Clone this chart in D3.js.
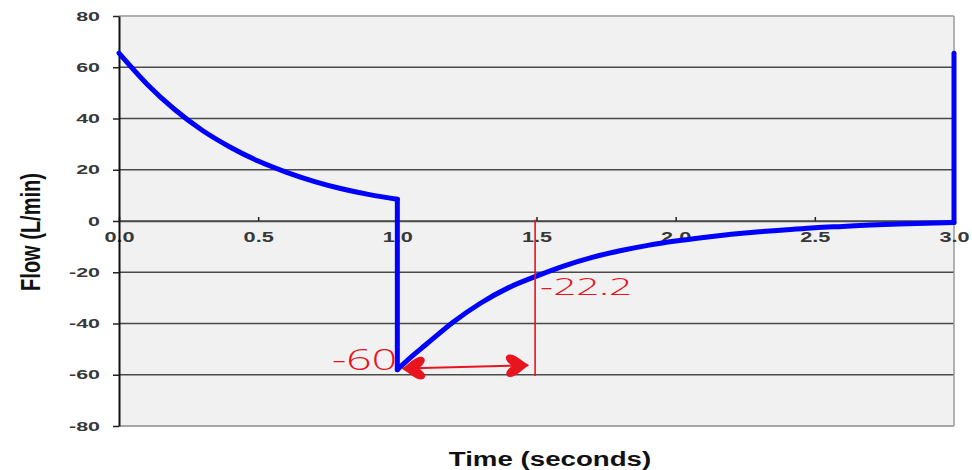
<!DOCTYPE html>
<html lang="en">
<head>
<meta charset="UTF-8">
<title>Flow vs Time</title>
<script src="https://d3js.org/d3.v7.min.js"></script>
<style>
  body { margin: 0; background: #fff; }
  .axis text { font-family: "Liberation Sans", Arial, sans-serif; font-weight: bold; fill: #383838; }
  .title { font-family: "Liberation Sans", Arial, sans-serif; font-weight: bold; fill: #111; }
  .grid line { stroke: #4a4a4a; stroke-width: 1.6px; }
  .flow { fill: none; stroke: #0000ff; stroke-width: 5px; stroke-linejoin: round; stroke-linecap: round; }
  .note { fill: #e8141e; font-family: "Open Sans", Lato, sans-serif; font-weight: 300; }
</style>
</head>
<body>
<svg width="972" height="470"></svg>
<script>
// axis ticks
const timeTicks = [0, 0.5, 1.0, 1.5, 2.0, 2.5, 3.0];
const flowTicks = [80, 60, 40, 20, 0, -20, -40, -60, -80];

// inspiration
const inhaleTime = [0, 0.1, 0.2, 0.3, 0.4, 0.5, 0.6, 0.7, 0.8, 0.9, 1.0];
const inhaleFlow = [65.5, 53.5, 43.5, 35.3, 28.8, 23.4, 19.1, 15.5, 12.6, 10.3, 8.5];

// expiration
const exhaleTime = [1.0, 1.05, 1.1, 1.2, 1.3, 1.4, 1.5, 1.6, 1.7, 1.8, 1.9, 2.0,
                    2.1, 2.2, 2.3, 2.4, 2.5, 2.6, 2.7, 2.8, 2.9, 3.0];
const exhaleFlow = [-58, -53, -48.5, -39.5, -32, -26, -21.5, -17.5, -14.2, -11.6, -9.5, -7.8,
                    -6.4, -5.2, -4.2, -3.4, -2.6, -2.1, -1.6, -1.2, -0.9, -0.6];

// next breath starts at the end
const nextBreathFlow = 65.5;

// hand-drawn notes
const markTime = 1.495;
const markFlow = -22.2;
const peakLabel = "-60";
const peakFlow = -58.2;
const arrowTime = [1.02, 1.47];
const arrowFlow = [-57.6, -56.3];

const margin = { top: 16, right: 18, bottom: 44, left: 119 };
const width = 972 - margin.left - margin.right;
const height = 470 - margin.top - margin.bottom;

const svg = d3.select("svg");
const g = svg.append("g").attr("transform", `translate(${margin.left},${margin.top})`);

const x = d3.scaleLinear().domain([0, 3]).range([0, width]);
const y = d3.scaleLinear().domain([-80, 80]).range([height, 0]);

// stretch text sideways like the original screenshot
function stretch(sel, sx) {
    sel.each(function () {
        const t = d3.select(this);
        const tx = +t.attr("x") || 0, ty = +t.attr("y") || 0;
        t.attr("x", 0).attr("y", 0).attr("transform", `translate(${tx},${ty}) scale(${sx},1)`);
    });
}

// plot area
g.append("rect")
    .attr("width", width).attr("height", height)
    .attr("fill", "#f1f1f1");

g.append("g").attr("class", "grid")
    .selectAll("line")
    .data(flowTicks.filter(d => d !== 80 && d !== -80))
    .join("line")
    .attr("x1", 0).attr("x2", width)
    .attr("y1", d => y(d)).attr("y2", d => y(d));

// top, right and bottom border
g.append("line").attr("x1", 0).attr("x2", width).attr("y1", y(80)).attr("y2", y(80))
    .attr("stroke", "#9a9a9a").attr("stroke-width", 1.5);
g.append("line").attr("x1", width).attr("x2", width).attr("y1", y(80)).attr("y2", y(-80))
    .attr("stroke", "#9a9a9a").attr("stroke-width", 1.5);
g.append("line").attr("x1", 0).attr("x2", width).attr("y1", y(-80)).attr("y2", y(-80))
    .attr("stroke", "#a6a6a6").attr("stroke-width", 2.2);

// x axis on the zero line
const xAxis = g.append("g")
    .attr("class", "axis")
    .attr("transform", `translate(0,${y(0)})`)
    .call(d3.axisBottom(x).tickValues(timeTicks).tickFormat(d3.format(".1f"))
        .tickSizeInner(-4).tickSizeOuter(0).tickPadding(11.5));
xAxis.select(".domain").attr("stroke", "#4a4a4a").attr("stroke-width", 1.6);
xAxis.selectAll(".tick line").attr("stroke", "#222").attr("stroke-width", 1.5);
xAxis.selectAll("text").attr("font-size", 14);
stretch(xAxis.selectAll("text"), 1.55);

// y axis
const yAxis = g.append("g")
    .attr("class", "axis")
    .call(d3.axisLeft(y).tickValues(flowTicks).tickFormat(d => String(d))
        .tickSizeInner(6).tickSizeOuter(0).tickPadding(13));
yAxis.select(".domain").attr("stroke", "#111").attr("stroke-width", 2);
yAxis.selectAll(".tick line").attr("stroke", "#222").attr("stroke-width", 1.5);
yAxis.selectAll("text").attr("font-size", 13);
stretch(yAxis.selectAll("text"), 1.65);

// flow curve
const line = d3.line().x(d => x(d[0])).y(d => y(d[1])).curve(d3.curveMonotoneX);
const straight = d3.line().x(d => x(d[0])).y(d => y(d[1]));

const inhale = inhaleTime.map((t, i) => [t, inhaleFlow[i]]);
const exhale = exhaleTime.map((t, i) => [t, exhaleFlow[i]]);

g.append("path").attr("class", "flow").attr("d", line(inhale));
g.append("path").attr("class", "flow")
    .attr("d", straight([inhale[inhale.length - 1], exhale[0]]));
g.append("path").attr("class", "flow").attr("d", line(exhale));
g.append("path").attr("class", "flow")
    .attr("d", straight([exhale[exhale.length - 1], [exhaleTime[exhaleTime.length - 1], nextBreathFlow]]));

// red notes
const red = "#e8141e";
svg.append("defs").append("marker")
    .attr("id", "head")
    .attr("viewBox", "0 -13 24 26")
    .attr("refX", 23).attr("refY", 0)
    .attr("markerWidth", 24).attr("markerHeight", 26)
    .attr("markerUnits", "userSpaceOnUse")
    .attr("orient", "auto-start-reverse")
    .append("path")
    .attr("d", "M24,0 C16,-5 9,-13 3,-11 C-2,-8 3,-3 7,0 C3,3 -2,8 3,11 C9,13 16,5 24,0Z")
    .attr("fill", red);

g.append("line")
    .attr("x1", x(markTime)).attr("x2", x(markTime))
    .attr("y1", y(0.5)).attr("y2", y(-60.5))
    .attr("stroke", red).attr("stroke-width", 1.6);

g.append("path")
    .attr("d", straight(arrowTime.map((t, i) => [t, arrowFlow[i]])))
    .attr("stroke", red).attr("stroke-width", 2).attr("fill", "none")
    .attr("marker-start", "url(#head)").attr("marker-end", "url(#head)");

g.append("text").attr("class", "note")
    .attr("x", x(0.999)).attr("y", y(peakFlow))
    .attr("text-anchor", "end").attr("font-size", 30)
    .attr("textLength", 65).attr("lengthAdjust", "spacingAndGlyphs")
    .text(peakLabel);

g.append("text").attr("class", "note")
    .attr("x", x(1.513)).attr("y", y(-28.9))
    .attr("font-size", 24)
    .attr("textLength", 92).attr("lengthAdjust", "spacingAndGlyphs")
    .text(markFlow.toFixed(1));

// axis titles
svg.append("text").attr("class", "title")
    .attr("transform", `translate(30,232) scale(1.4,1) rotate(-90)`)
    .attr("text-anchor", "middle").attr("dominant-baseline", "central")
    .attr("font-size", 20)
    .text("Flow (L/min)");

svg.append("text").attr("class", "title")
    .attr("transform", `translate(550,465.5) scale(1.35,1)`)
    .attr("text-anchor", "middle")
    .attr("font-size", 20.5)
    .text("Time (seconds)");
</script>
</body>
</html>
